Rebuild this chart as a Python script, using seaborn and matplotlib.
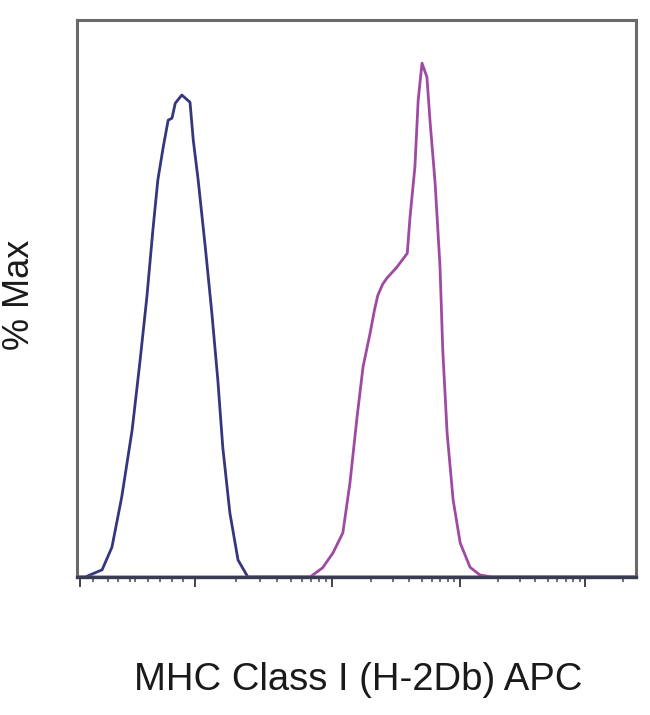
import numpy as np
import pandas as pd
import matplotlib
matplotlib.use('Agg')
import matplotlib.pyplot as plt
import seaborn as sns

# Canal (escala de exibição 0-1024) e % Max
azul_x = [0, 15, 46, 64, 82, 101, 115, 128, 139, 148, 158, 167, 174, 180, 192, 207,
          213, 222, 235, 247, 258, 267, 280, 295, 313, 340, 1024]
azul_y = [0, 0, 1.4, 5.8, 15.6, 28.6, 41.6, 54.5, 67.5, 77.2, 83.7, 88.9, 89.3, 92.2,
          93.8, 92.4, 85.0, 77.2, 64.2, 51.4, 38.3, 25.3, 12.5, 3.3, 0, 0, 0]

rosa_x = [0, 400, 427, 450, 469, 487, 500, 513, 524, 537, 545, 551, 560, 568, 586, 605,
          610, 619, 625, 632, 641, 647, 656, 665, 670, 678, 689, 702, 720, 738, 760, 1024]
rosa_y = [0, 0, 0, 1.8, 4.7, 8.6, 18.3, 31.1, 40.9, 47.5, 52.0, 54.8, 57.0, 58.2, 60.3,
          63.0, 70.0, 79.8, 92.8, 100, 97.3, 88.3, 76.7, 60.3, 44.2, 28.0, 15.0, 6.6,
          1.9, 0.4, 0, 0]

# Marcas do eixo x (escala logicle aproximada)
ticks_maiores = [5, 216, 467, 702, 931]
ticks_menores = [29, 57, 75, 97, 106, 130, 152, 174, 194]

df_azul = pd.DataFrame({'canal': azul_x, 'pct': azul_y})
df_rosa = pd.DataFrame({'canal': rosa_x, 'pct': rosa_y})

sns.set_style('white')
plt.rcParams['font.family'] = ['Liberation Sans', 'DejaVu Sans']

fig = plt.figure(figsize=(6.5, 7.15), dpi=100)
ax = fig.add_axes([77 / 650, 1 - 577 / 715, 559 / 650, 557 / 715])

sns.lineplot(data=df_azul, x='canal', y='pct', ax=ax, color='#36367f',
             linewidth=2.0, estimator=None, sort=False)
sns.lineplot(data=df_rosa, x='canal', y='pct', ax=ax, color='#9e4aa4',
             linewidth=2.0, estimator=None, sort=False)

ax.set_xlim(0, 1024)
ax.set_ylim(0, 108.4)

# menores logarítmicos entre as décadas
menores = list(ticks_menores)
for a, b in zip(ticks_maiores[1:-1], ticks_maiores[2:]):
    menores += [a + (b - a) * np.log10(k) for k in range(2, 10)]
menores.append(ticks_maiores[-1] + (ticks_maiores[-1] - ticks_maiores[-2]) * np.log10(2))

ax.set_xticks(ticks_maiores)
ax.set_xticks(menores, minor=True)
ax.set_yticks([])
ax.set_xticklabels([])
ax.tick_params(axis='x', which='major', direction='out', length=7, width=1.4,
               color='#444444', bottom=True)
ax.tick_params(axis='x', which='minor', direction='out', length=3.5, width=1.2,
               color='#555555', bottom=True)

for lado in ['top', 'left', 'right']:
    ax.spines[lado].set_color('#6a6a6a')
    ax.spines[lado].set_linewidth(2.2)
ax.spines['bottom'].set_color('#3a3a50')
ax.spines['bottom'].set_linewidth(2.4)

ax.set_xlabel('MHC Class I (H-2Db) APC', fontsize=27.5, color='#1a1a1a')
ax.set_ylabel('% Max', fontsize=26, color='#1a1a1a')
ax.xaxis.set_label_coords(0.503, -0.185)
ax.xaxis.label.set_va('center')
ax.yaxis.set_label_coords(-0.102, 0.506)
ax.yaxis.label.set_va('center')

fig.savefig('out.png', dpi=100)
